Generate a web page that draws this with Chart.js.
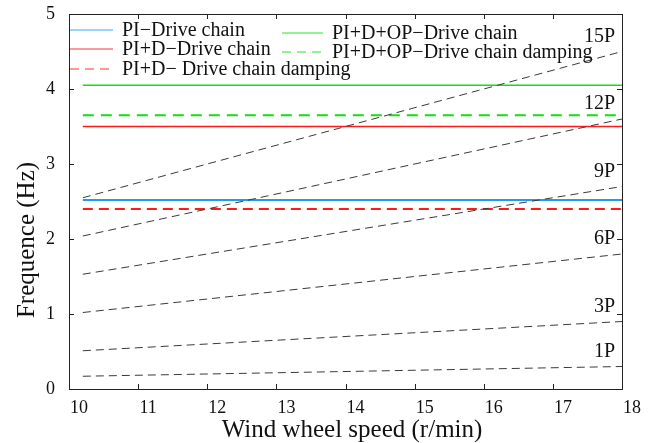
<!DOCTYPE html>
<html>
<head>
<meta charset="utf-8">
<script src="https://cdn.jsdelivr.net/npm/chart.js@4.4.1/dist/chart.umd.min.js"></script>
<style>
  html, body { margin: 0; padding: 0; background: #fff; }
  #wrap { width: 658px; height: 443px; }
</style>
</head>
<body>
<div id="wrap"><canvas id="chart" width="658" height="443"></canvas></div>
<script>
// data
const speedRange = [10.2, 18];
const harmonicNames = ['1P', '3P', '6P', '9P', '12P', '15P'];
const harmonicLow = [0.17, 0.51, 1.02, 1.53, 2.04, 2.55];
const harmonicHigh = [0.30, 0.90, 1.80, 2.70, 3.60, 4.50];
const modeNames = ['PI\u2212Drive chain', 'PI+D\u2212Drive chain', 'PI+D\u2212 Drive chain damping',
                   'PI+D+OP\u2212Drive chain', 'PI+D+OP\u2212Drive chain damping'];
const modeFreq = [2.52, 3.50, 2.40, 4.05, 3.65];
const xTicks = [10, 11, 12, 13, 14, 15, 16, 17, 18];
const yTicks = [0, 1, 2, 3, 4, 5];

const modeColor = ['#1f9df5', '#ff1a1a', '#ff1a1a', '#10e010', '#10e010'];
const modeWidth = [2, 1.5, 2.2, 1.5, 2.2];
const modeDash = [[], [], [10, 6], [], [11, 7]];

const FONT = '"Liberation Serif", "Times New Roman", serif';

const datasets = [];
harmonicNames.forEach((n, i) => {
  datasets.push({
    label: n,
    data: [{ x: speedRange[0], y: harmonicLow[i] }, { x: speedRange[1], y: harmonicHigh[i] }],
    borderColor: '#3a3a3a',
    borderWidth: 1,
    borderDash: [8, 5],
    pointRadius: 0
  });
});
modeNames.forEach((n, i) => {
  datasets.push({
    label: n,
    data: [{ x: speedRange[0], y: modeFreq[i] }, { x: speedRange[1], y: modeFreq[i] }],
    borderColor: modeColor[i],
    borderWidth: modeWidth[i],
    borderDash: modeDash[i],
    pointRadius: 0
  });
});

// box, inward ticks, harmonic labels, legend, axis titles
const decor = {
  id: 'decor',
  afterDatasetsDraw(chart) {
    const { ctx, chartArea: a, scales: { x, y } } = chart;
    ctx.save();
    ctx.strokeStyle = '#222';
    ctx.lineWidth = 1;
    ctx.setLineDash([]);
    ctx.strokeRect(Math.round(a.left) + 0.5, Math.round(a.top) + 0.5,
                   Math.round(a.right - a.left), Math.round(a.bottom - a.top));
    ctx.beginPath();
    xTicks.forEach(v => {
      const px = Math.round(x.getPixelForValue(v)) + 0.5;
      ctx.moveTo(px, a.bottom); ctx.lineTo(px, a.bottom - 5);
      ctx.moveTo(px, a.top); ctx.lineTo(px, a.top + 5);
    });
    yTicks.forEach(v => {
      const py = Math.round(y.getPixelForValue(v)) + 0.5;
      ctx.moveTo(a.left, py); ctx.lineTo(a.left + 5, py);
      ctx.moveTo(a.right, py); ctx.lineTo(a.right - 5, py);
    });
    ctx.stroke();

    ctx.fillStyle = '#111';
    ctx.font = '20px ' + FONT;
    ctx.textAlign = 'right';
    ctx.textBaseline = 'middle';
    harmonicNames.forEach((n, i) => {
      const py = y.getPixelForValue(harmonicHigh[i]) - 15;
      ctx.fillText(n, x.getPixelForValue(17.9), py);
    });

    const cols = [{ x0: 70, x1: 113, tx: 122, rows: [30, 49, 69], idx: [0, 1, 2] },
                  { x0: 282, x1: 323, tx: 332, rows: [33, 52], idx: [3, 4] }];
    ctx.font = '20px ' + FONT;
    ctx.textAlign = 'left';
    cols.forEach(c => {
      c.idx.forEach((k, j) => {
        const ry = c.rows[j];
        ctx.beginPath();
        ctx.strokeStyle = modeColor[k];
        ctx.globalAlpha = 0.6;
        ctx.lineWidth = 1.5;
        ctx.setLineDash(modeDash[k].length ? [9, 6] : []);
        ctx.moveTo(c.x0, ry); ctx.lineTo(c.x1, ry);
        ctx.stroke();
        ctx.globalAlpha = 1;
        ctx.setLineDash([]);
        ctx.fillText(modeNames[k], c.tx, ry + 1);
      });
    });

    ctx.font = '25px ' + FONT;
    ctx.textAlign = 'center';
    ctx.fillText('Wind wheel speed (r/min)', 352, 430);
    ctx.translate(27, 240);
    ctx.rotate(-Math.PI / 2);
    ctx.fillText('Frequence (Hz)', 0, 0);
    ctx.restore();
  }
};

new Chart(document.getElementById('chart'), {
  type: 'line',
  data: { datasets },
  plugins: [decor],
  options: {
    responsive: false,
    animation: false,
    devicePixelRatio: 1,
    layout: { padding: { top: 14, right: 36, left: 0, bottom: 0 } },
    plugins: { legend: { display: false }, tooltip: { enabled: false } },
    scales: {
      x: {
        type: 'linear', min: 10, max: 18,
        afterFit(s) { s.height = 54; s.paddingLeft = 0; s.paddingRight = 0; },
        afterBuildTicks(s) { s.ticks = xTicks.map(v => ({ value: v })); },
        grid: { display: false, drawTicks: false },
        border: { display: false },
        ticks: { padding: 8, labelOffset: 10, color: '#111', font: { family: FONT, size: 18 } }
      },
      y: {
        min: 0, max: 5,
        afterFit(s) { s.width = 69; s.paddingTop = 0; s.paddingBottom = 0; },
        afterBuildTicks(s) { s.ticks = yTicks.map(v => ({ value: v })); },
        grid: { display: false, drawTicks: false },
        border: { display: false },
        ticks: { padding: 14, color: '#111', font: { family: FONT, size: 18 } }
      }
    }
  }
});
</script>
</body>
</html>
